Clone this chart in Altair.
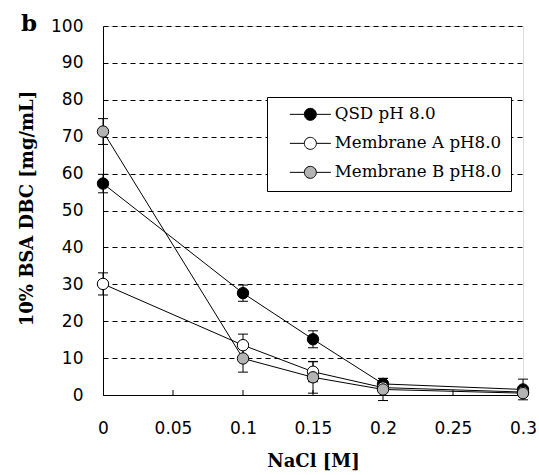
import altair as alt
import pandas as pd

# --- data ---
nacl = [0.0, 0.1, 0.15, 0.2, 0.3]
series_names = ["QSD pH 8.0", "Membrane A pH8.0", "Membrane B pH8.0"]
qsd = [57.3, 27.6, 15.1, 3.0, 1.5]
qsd_err = [2.5, 2.2, 2.3, 1.5, 2.8]
mem_a = [30.1, 13.5, 6.3, 2.0, 0.8]
mem_a_err = [3.0, 3.0, 2.7, 1.0, 0.5]
mem_b = [71.4, 9.9, 4.8, 1.5, 0.5]
mem_b_err = [3.5, 3.7, 4.3, 3.0, 0.5]
fills = ["#000000", "#ffffff", "#b3b3b3"]
x_ticks = [0, 0.05, 0.1, 0.15, 0.2, 0.25, 0.3]
inner_ticks = [0.05, 0.1, 0.15, 0.2, 0.25]
y_ticks = [0, 10, 20, 30, 40, 50, 60, 70, 80, 90, 100]

rows = []
for name, vals, errs in zip(series_names, [qsd, mem_a, mem_b], [qsd_err, mem_a_err, mem_b_err]):
    for xv, yv, ev in zip(nacl, vals, errs):
        rows.append({"series": name, "x": xv, "y": yv, "lo": yv - ev, "hi": yv + ev})
df = pd.DataFrame(rows)
tick_df = pd.DataFrame({"x": inner_ticks, "y0": [0] * len(inner_ticks)})

xscale = alt.Scale(domain=[0, 0.3], nice=False, zero=False)
yscale = alt.Scale(domain=[0, 100], nice=False)

x_axis = alt.Axis(values=x_ticks, format="~g", ticks=False, grid=False,
                  labelOverlap=False, labelFlush=False, labelBound=False,
                  labelFont="DejaVu Sans", labelFontSize=17, labelColor="black",
                  labelPadding=25, domainColor="black", domainWidth=1,
                  titleFont="DejaVu Serif", titleFontSize=18, titleFontWeight="bold",
                  titleColor="black", titlePadding=16)
y_axis = alt.Axis(values=y_ticks, tickCount=11, ticks=False, grid=True, gridColor="black",
                  gridDash=[5, 4], gridWidth=1,
                  labelOverlap=False, labelFlush=False, labelBound=False,
                  labelFont="DejaVu Sans", labelFontSize=17, labelColor="black",
                  labelPadding=20, domainColor="black", domainWidth=1,
                  titleFont="DejaVu Serif", titleFontSize=18, titleFontWeight="bold",
                  titleColor="black", titleAngle=-90, titleX=-76, titleY=182,
                  titleAlign="center", titleBaseline="middle")
XT = "NaCl [M]"
YT = "10% BSA DBC [mg/mL]"


def X(field):
    return alt.X(field, scale=xscale, axis=x_axis, title=XT)


def Y(field):
    return alt.Y(field, scale=yscale, axis=y_axis, title=YT)


base = alt.Chart(df)

lines = base.mark_line(color="black", strokeWidth=1).encode(
    x=X("x:Q"), y=Y("y:Q"), detail="series:N")

err_rule = base.mark_rule(color="black", strokeWidth=1).encode(
    x=X("x:Q"), y=Y("lo:Q"), y2="hi:Q")
cap_lo = base.mark_tick(orient="horizontal", size=10, thickness=1, color="black", opacity=1).encode(
    x=X("x:Q"), y=Y("lo:Q"))
cap_hi = base.mark_tick(orient="horizontal", size=10, thickness=1, color="black", opacity=1).encode(
    x=X("x:Q"), y=Y("hi:Q"))

inner = alt.Chart(tick_df).mark_tick(orient="vertical", size=5, thickness=1, color="black",
                                     opacity=1, yOffset=-2.5).encode(
    x=X("x:Q"), y=Y("y0:Q"))

symbol_path = ("M-3.42,0L-1,0M1,0L3.42,0"
               "M1,0A1,1,0,1,1,-1,0A1,1,0,1,1,1,0Z")

points = base.mark_circle(size=130, stroke="black", strokeWidth=1, opacity=1).encode(
    x=X("x:Q"), y=Y("y:Q"),
    fill=alt.Fill("series:N", scale=alt.Scale(domain=series_names, range=fills),
                  sort=series_names,
                  legend=alt.Legend(title=None, orient="none", legendX=164, legendY=71,
                                    symbolType=symbol_path, symbolSize=144,
                                    symbolStrokeColor="black", symbolStrokeWidth=1,
                                    symbolOpacity=1, symbolOffset=26,
                                    labelFont="DejaVu Serif", labelFontSize=16.7,
                                    labelColor="black", labelOffset=16, labelLimit=400,
                                    strokeColor="black", fillColor="white",
                                    padding=9, rowPadding=11)))

chart = alt.layer(lines, inner, err_rule, cap_lo, cap_hi, points).properties(
    width=420, height=369,
    autosize=alt.AutoSizeParams(type="none"),
    padding={"left": 103, "top": 26, "right": 16, "bottom": 80},
    title=alt.TitleParams(text="b", anchor="start", frame="group", font="DejaVu Serif",
                          fontSize=23, fontWeight="bold", color="black", dx=-82, dy=37,
                          offset=0, baseline="alphabetic"),
).configure_view(stroke="black", strokeWidth=1).configure(background="white")

chart.save("out.html", embed_options={"renderer": "svg", "actions": False})
